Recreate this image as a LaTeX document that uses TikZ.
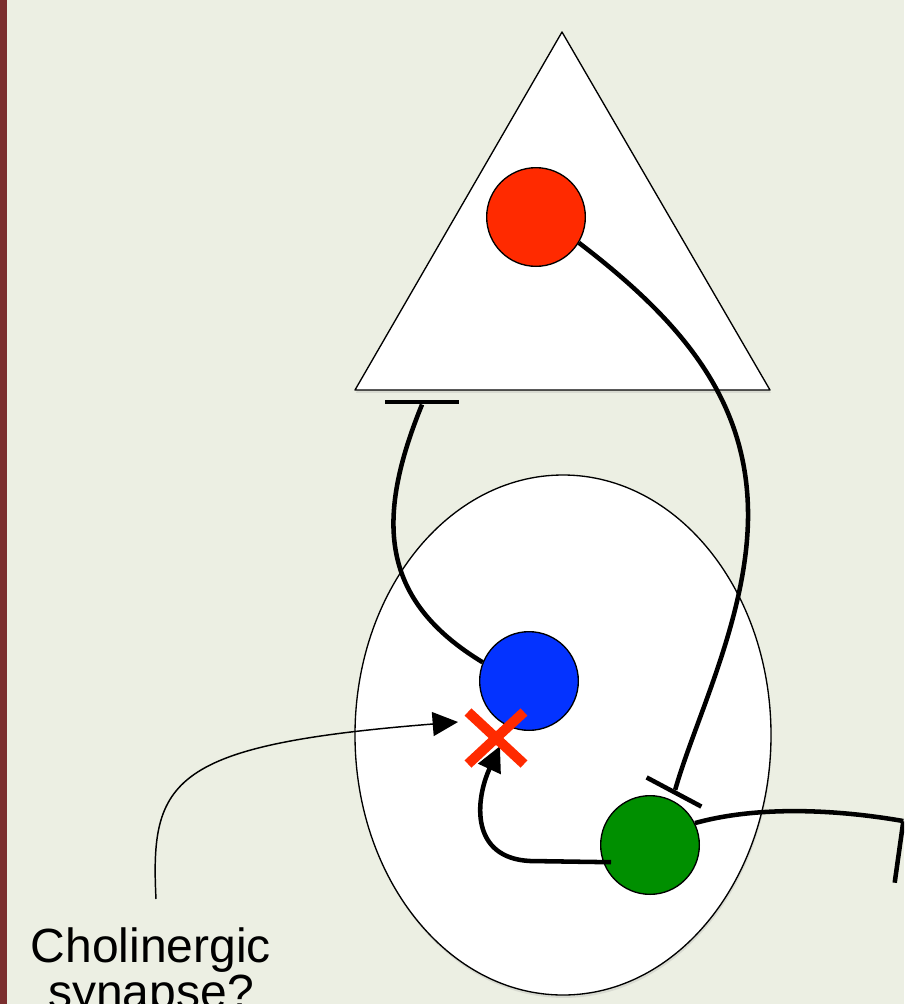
\documentclass[tikz,border=0pt]{standalone}
\usepackage{fontspec}
\setmainfont{Liberation Sans}
\usetikzlibrary{arrows.meta,calc,shadows}
\definecolor{paper}{HTML}{ECEFE3}
\definecolor{edgebar}{HTML}{7B2E2E}
\definecolor{cellred}{HTML}{FF2A00}
\definecolor{cellblue}{HTML}{0433FF}
\definecolor{cellgreen}{HTML}{008F00}
\begin{document}
\begin{tikzpicture}[x=0.75pt,y=-0.75pt,line join=round,
  cell/.style={circle,draw,line width=1pt,minimum size=74pt,inner sep=0pt},
  inhib/.style={fill=black,inner sep=0pt,minimum height=3.4pt},
  axon/.style={line width=3.4pt},
  thinline/.style={line width=1.1pt},
  tip/.style={-{Triangle[length=19pt,width=18pt]}},
  boxshadow/.style={drop shadow={opacity=0.18,shadow xshift=0.6pt,shadow yshift=-2.2pt}}]
  \useasboundingbox (0,0) rectangle (904,1004);
  \clip (0,0) rectangle (904,1004);
  \fill[paper] (0,0) rectangle (904,1004);
  \fill[edgebar] (0,0) rectangle (7,1004);
  % triangle and ellipse
  \draw[fill=white,line width=1pt,boxshadow] (355,390) -- (770,390) -- (562,32) -- cycle;
  \draw[fill=white,line width=1pt,boxshadow] (563,735) ellipse [x radius=208,y radius=260];
  % cells
  \node[cell,fill=cellred] (red) at (536,217) {};
  \node[cell,fill=cellblue] (blue) at (529,681) {};
  \node[cell,fill=cellgreen] (green) at (650,845) {};
  % inhibitory bars
  \node[inhib,minimum width=55.5pt] (barA) at (422,402) {};
  \node[inhib,minimum width=46.5pt,rotate=-28] (barB) at (674,792) {};
  \node[inhib,minimum width=46.5pt,rotate=82] (barC) at (899,852) {};
  \coordinate (block) at (496,738);
  \coordinate (synA) at (458,722);
  \coordinate (synB) at (500,746);
  \coordinate (noteTop) at (156,899);
  \node[anchor=base,align=center,font=\fontsize{36}{34}\selectfont] (note) at (151,1008) {Cholinergic\\synapse?};
  % connections
  \draw[axon] (barA.south) .. controls (375,520) and (380,600) .. (blue.158);
  \draw[axon] (red.-31) .. controls (680,320) and (750,400) .. (748,520)
    .. controls (746,620) and (695,720) .. (barB.north);
  \draw[axon] (green.26) .. controls (760,805) and (840,810) .. (barC.east);
  \draw[axon,tip,shorten <=-6pt] (green.200) -- (530,861) .. controls (470,858) and (475,800) .. (synB);
  \draw[thinline,tip] (noteTop) .. controls (150,780) and (170,745) .. (synA);
  % blocked synapse
  \draw[line width=7.5pt,cellred] ($(block)+(-28,-26)$) -- ($(block)+(28,26)$);
  \draw[line width=7.5pt,cellred] ($(block)+(-28,26)$) -- ($(block)+(28,-26)$);
\end{tikzpicture}
\end{document}
